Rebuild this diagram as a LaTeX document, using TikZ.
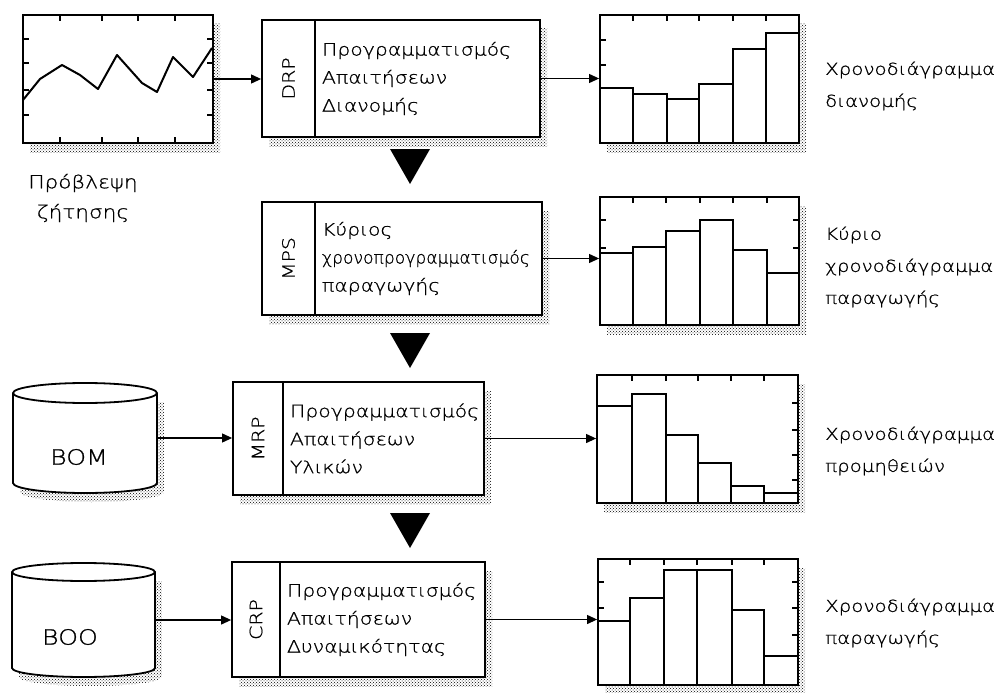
\documentclass[tikz,border=0pt]{standalone}
\usepackage{fontspec}
\IfFontExistsTF{DejaVu Sans ExtraLight}{\setmainfont{DejaVu Sans ExtraLight}[FakeStretch=1.2,FakeBold=1]}{\setmainfont{DejaVu Sans}[FakeStretch=1.2]}
\usetikzlibrary{arrows.meta,shadows,patterns}

\begin{document}
\begin{tikzpicture}[x=1pt,y=-1pt,>={Triangle[length=10pt,width=9pt]},
    shade/.style={pattern=crosshatch dots,pattern color=black},
    frame/.style={draw,line width=1.8pt,fill=white,inner sep=0pt,
      drop shadow={shadow xshift=7pt,shadow yshift=-9pt,opacity=1,shade}},
    tag/.style={frame,font=\fontsize{17}{17}\selectfont},
    body/.style={frame,align=left,inner sep=7pt,font=\fontsize{17}{28}\selectfont},
    lbl/.style={anchor=west,inner sep=0pt,align=left,font=\fontsize{16.5}{32}\selectfont},
    bar/.style={line width=1.5pt},
    tick/.style={line width=1.5pt},
    conn/.style={->,line width=1.1pt}]
  \useasboundingbox (0,0) rectangle (1002,693);

  % forecast
  \node[frame,minimum width=190pt,minimum height=128pt] (fcst) at (118,79) {};
  \draw[tick] (60,15) -- ++(0,6) (102,15) -- ++(0,6) (138,15) -- ++(0,6) (175,15) -- ++(0,6)
    (60,143) -- ++(0,-6) (102,143) -- ++(0,-6) (138,143) -- ++(0,-6) (175,143) -- ++(0,-6)
    (23,39) -- ++(6,0) (23,63) -- ++(6,0) (23,90) -- ++(6,0) (23,115) -- ++(6,0)
    (213,39) -- ++(-6,0) (213,63) -- ++(-6,0) (213,90) -- ++(-6,0) (213,115) -- ++(-6,0);
  \draw[line width=2pt,line join=round] plot coordinates {(23,100) (40,79) (62,65) (80,75) (98,89)
    (117,55) (142,83) (157,92) (173,57) (193,77) (212,48)};
  \node[align=center,font=\fontsize{18}{30}\selectfont] (fcstlbl) at (83,198) {Πρόβλεψη\\ζήτησης};

  % DRP
  \node[tag,minimum width=53pt,minimum height=117pt] (drp) at (288.5,78.5) {\rotatebox{90}{DRP}};
  \node[body,text width=211pt,minimum height=117pt] (drpbox) at (427.5,78.5)
    {Προγραμματισμός\\Απαιτήσεων\\Διανομής};
  \node[frame,minimum width=199pt,minimum height=128pt] (drpout) at (699.5,79) {};
  \draw[bar] (600,88) rectangle (633,143) (633,94) rectangle (667,143) (667,99) rectangle (699,143)
    (699,84) rectangle (733,143) (733,49) rectangle (766,143) (766,33) rectangle (799,143);
  \draw[tick] (633,15) -- ++(0,6) (667,15) -- ++(0,6) (699,15) -- ++(0,6) (733,15) -- ++(0,6)
    (766,15) -- ++(0,6) (600,40) -- ++(6,0) (600,65) -- ++(6,0);
  \node[lbl] (drplbl) at (825,86) {Χρονοδιάγραμμα\\διανομής};
  \draw[conn] (fcst.east) -- (fcst.east -| drp.west);
  \draw[conn] (drpbox.east) -- (drpbox.east -| drpout.west);
  \fill (390,149) -- (430,149) -- (410,184) -- cycle;

  % MPS
  \node[tag,minimum width=53pt,minimum height=113pt] (mps) at (288.5,258.5) {\rotatebox{90}{MPS}};
  \node[body,text width=213pt,minimum height=113pt] (mpsbox) at (428.5,258.5)
    {Κύριος\\\scalebox{0.84}[1]{χρονοπρογραμματισμός}\\παραγωγής};
  \node[frame,minimum width=199pt,minimum height=128pt] (mpsout) at (699.5,261) {};
  \draw[bar] (600,253) rectangle (633,325) (633,247) rectangle (666,325) (666,231) rectangle (700,325)
    (700,220) rectangle (733,325) (733,250) rectangle (767,325) (767,273) rectangle (799,325);
  \draw[tick] (633,197) -- ++(0,6) (666,197) -- ++(0,6) (700,197) -- ++(0,6) (733,197) -- ++(0,6)
    (767,197) -- ++(0,6) (600,220) -- ++(6,0) (600,248) -- ++(6,0) (799,220) -- ++(-6,0) (799,248) -- ++(-6,0);
  \node[lbl] (mpslbl) at (825,267) {Κύριο\\χρονοδιάγραμμα\\παραγωγής};
  \draw[conn] (mpsbox.east) -- (mpsbox.east -| mpsout.west);
  \fill (390,333) -- (430,333) -- (410,368) -- cycle;

  % MRP
  \node[minimum width=144pt,minimum height=110pt,inner sep=0pt] (bom) at (85,438) {};
  \fill[shade] (20,402) -- (20,492) arc[start angle=180,end angle=0,x radius=72,y radius=10] -- (164,402) -- cycle;
  \draw[line width=1.8pt,fill=white] (13,393) -- (13,483) arc[start angle=180,end angle=0,x radius=72,y radius=10]
    -- (157,393) arc[start angle=0,end angle=-180,x radius=72,y radius=10] -- cycle;
  \draw[line width=1.8pt] (13,393) arc[start angle=180,end angle=0,x radius=72,y radius=10];
  \node[font=\fontsize{21}{21}\selectfont] (bomtxt) at (79,457) {BOM};
  \node[tag,minimum width=50pt,minimum height=113pt] (mrp) at (258,438.5) {\rotatebox{90}{MRP}};
  \node[body,text width=187pt,minimum height=113pt] (mrpbox) at (383.5,438.5)
    {Προγραμματισμός\\Απαιτήσεων\\Υλικών};
  \node[frame,minimum width=201pt,minimum height=128pt] (mrpout) at (697.5,439) {};
  \draw[bar] (597,406) rectangle (632,503) (632,394) rectangle (666,503) (666,435) rectangle (698,503)
    (698,463) rectangle (731,503) (731,486) rectangle (764,503) (764,493) rectangle (798,503);
  \draw[tick] (632,375) -- ++(0,6) (666,375) -- ++(0,6) (698,375) -- ++(0,6) (731,375) -- ++(0,6)
    (764,375) -- ++(0,6) (798,403) -- ++(-6,0) (798,430) -- ++(-6,0) (798,455) -- ++(-6,0) (798,480) -- ++(-6,0);
  \node[lbl] (mrplbl) at (825,451) {Χρονοδιάγραμμα\\προμηθειών};
  \draw[conn] (bom.east) -- (bom.east -| mrp.west);
  \draw[conn] (mrpbox.east) -- (mrpbox.east -| mrpout.west);
  \fill (390,513) -- (430,513) -- (410,548) -- cycle;

  % CRP
  \node[minimum width=143pt,minimum height=114pt,inner sep=0pt] (boo) at (83.5,620) {};
  \fill[shade] (19,581) -- (19,677) arc[start angle=180,end angle=0,x radius=71.5,y radius=9] -- (162,581) -- cycle;
  \draw[line width=1.8pt,fill=white] (12,572) -- (12,668) arc[start angle=180,end angle=0,x radius=71.5,y radius=9]
    -- (155,572) arc[start angle=0,end angle=-180,x radius=71.5,y radius=9] -- cycle;
  \draw[line width=1.8pt] (12,572) arc[start angle=180,end angle=0,x radius=71.5,y radius=9];
  \node[font=\fontsize{21}{21}\selectfont] (bootxt) at (70,637) {BOO};
  \node[tag,minimum width=48pt,minimum height=115pt] (crp) at (256,619.5) {\rotatebox{90}{CRP}};
  \node[body,text width=191pt,minimum height=115pt] (crpbox) at (382.5,619.5)
    {Προγραμματισμός\\Απαιτήσεων\\Δυναμικότητας};
  \node[frame,minimum width=200pt,minimum height=126pt] (crpout) at (698,622) {};
  \draw[bar] (598,621) rectangle (630,685) (630,598) rectangle (664,685) (664,570) rectangle (697,685)
    (697,570) rectangle (732,685) (732,610) rectangle (764,685) (764,656) rectangle (798,685);
  \draw[tick] (630,559) -- ++(0,6) (664,559) -- ++(0,6) (697,559) -- ++(0,6) (732,559) -- ++(0,6)
    (764,559) -- ++(0,6) (598,582) -- ++(6,0) (598,608) -- ++(6,0)
    (798,582) -- ++(-6,0) (798,608) -- ++(-6,0) (798,635) -- ++(-6,0);
  \node[lbl] (crplbl) at (825,623) {Χρονοδιάγραμμα\\παραγωγής};
  \draw[conn] (boo.east) -- (boo.east -| crp.west);
  \draw[conn] (crpbox.east) -- (crpbox.east -| crpout.west);
\end{tikzpicture}
\end{document}
